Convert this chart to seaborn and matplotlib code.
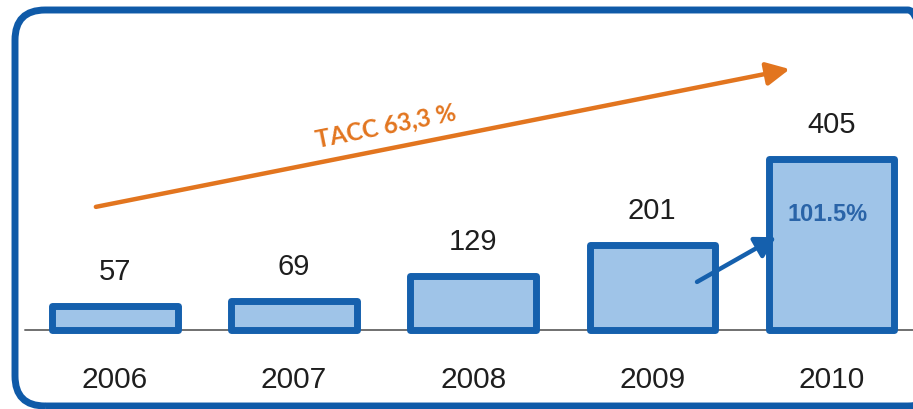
import matplotlib
matplotlib.use("Agg")
import matplotlib.pyplot as plt
from matplotlib.patches import FancyBboxPatch
import seaborn as sns
import numpy as np
import pandas as pd

# data
years = ["2006", "2007", "2008", "2009", "2010"]
values = [57, 69, 129, 201, 405]
cagr_label = "TACC 63,3 %"
last_growth_label = "101.5%"

bar_fill = "#9fc4e8"
bar_edge = "#1560ad"
orange = "#e2751f"
frame_col = "#0f5aa8"

sns.set_theme(style="white")
plt.rcParams['font.family'] = ['Liberation Sans', 'DejaVu Sans']

fig = plt.figure(figsize=(9.13, 4.10), dpi=100)
ax = fig.add_axes([0, 0, 1, 1])

df = pd.DataFrame({"year": years, "value": values})
sns.barplot(data=df, x="year", y="value", ax=ax, color=bar_fill, saturation=1,
            edgecolor=bar_edge, linewidth=5, width=0.70, zorder=3)
for p in ax.patches:
    p.set_joinstyle("round")

# map categories / values onto the picture
ax.set_xlim(-0.642, 4.456)
ax.set_ylim(-187, 784)
ax.axis("off")

# baseline
ax.axhline(0, xmin=25 / 913, xmax=1, color="#707070", lw=1.4, zorder=2)

# value labels and year labels
for i, (yr, v) in enumerate(zip(years, values)):
    ax.annotate(str(v), xy=(i, v), xytext=(0, 25), textcoords="offset points",
                ha="center", va="center", fontsize=21, color="#1e1e1e")
    ax.annotate(yr, xy=(i, 0), xytext=(0, -35), textcoords="offset points",
                ha="center", va="center", fontsize=21.5, color="#1e1e1e")

# growth of last year
ax.annotate(last_growth_label, xy=(len(values) - 1, values[-1]), xytext=(-3, -39),
            textcoords="offset points", ha="center", va="center", fontsize=17,
            fontweight="bold", color="#2a64a8")
ax.annotate("", xy=(3.69, 220), xytext=(3.25, 114),
            arrowprops=dict(arrowstyle="-|>,head_length=0.6,head_width=0.35",
                            mutation_scale=20, lw=3.2, color=bar_edge,
                            shrinkA=0, shrinkB=0), zorder=5)

# CAGR arrow
ax.annotate("", xy=(0.865, 0.829), xytext=(0.105, 0.493), xycoords="axes fraction",
            arrowprops=dict(arrowstyle="-|>,head_length=0.7,head_width=0.35",
                            mutation_scale=20, lw=3.2, color=orange,
                            shrinkA=0, shrinkB=0), zorder=5)
ax.text(0.422, 0.692, cagr_label, transform=ax.transAxes, rotation=11.3,
        rotation_mode="anchor", ha="center", va="center", fontsize=17.5,
        fontweight="bold", color=orange, family=["Lato", "DejaVu Sans"])

# rounded frame, its right side runs just past the picture
frame = FancyBboxPatch((15 / 913, 3 / 410), 923 / 913, 396 / 410,
                       boxstyle="round,pad=0,rounding_size=0.033",
                       mutation_aspect=913 / 410, transform=fig.transFigure,
                       fill=False, edgecolor=frame_col, lw=5, clip_on=False)
fig.patches.append(frame)

fig.savefig("out.png", dpi=100, facecolor="white")
